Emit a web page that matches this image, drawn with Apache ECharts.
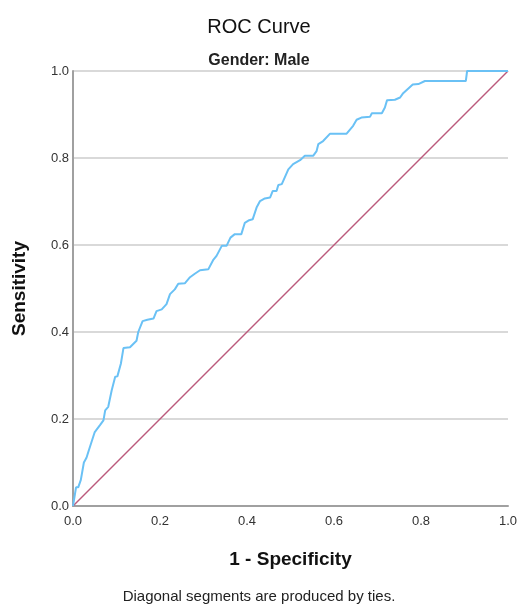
<!DOCTYPE html>
<html>
<head>
<meta charset="utf-8">
<script src="https://cdn.jsdelivr.net/npm/echarts@6/dist/echarts.min.js"></script>
<style>
  html, body { margin: 0; padding: 0; background: #fff; }
  #chart { width: 518px; height: 604px; }
</style>
</head>
<body>
<div id="chart"></div>
<script>
// 1 - specificity / sensitivity pairs
const fpr = [0, 0.007, 0.012, 0.018, 0.025, 0.031, 0.037, 0.05, 0.062, 0.07, 0.074, 0.081, 0.089, 0.097, 0.102,
  0.11, 0.116, 0.131, 0.146, 0.15, 0.16, 0.171, 0.185, 0.192, 0.204, 0.215, 0.223, 0.234, 0.242, 0.257,
  0.269, 0.28, 0.292, 0.311, 0.322, 0.33, 0.342, 0.353, 0.362, 0.372, 0.387, 0.395, 0.405, 0.413, 0.422,
  0.43, 0.441, 0.453, 0.459, 0.468, 0.472, 0.48, 0.495, 0.506, 0.522, 0.533, 0.552, 0.56, 0.564, 0.575,
  0.591, 0.629, 0.644, 0.652, 0.663, 0.683, 0.687, 0.71, 0.717, 0.722, 0.74, 0.752, 0.759, 0.781, 0.794,
  0.809, 0.903, 0.906, 1]
const tpr = [0, 0.043, 0.043, 0.06, 0.10, 0.111, 0.13, 0.17, 0.186, 0.197, 0.22, 0.228, 0.266, 0.297, 0.298,
  0.327, 0.363, 0.365, 0.38, 0.4, 0.425, 0.428, 0.431, 0.448, 0.452, 0.464, 0.487, 0.498, 0.511, 0.512,
  0.526, 0.534, 0.542, 0.544, 0.565, 0.575, 0.598, 0.598, 0.617, 0.625, 0.625, 0.651, 0.657, 0.659, 0.686,
  0.701, 0.707, 0.709, 0.724, 0.724, 0.738, 0.74, 0.774, 0.786, 0.795, 0.805, 0.805, 0.816, 0.832, 0.839,
  0.856, 0.856, 0.874, 0.888, 0.893, 0.895, 0.903, 0.903, 0.916, 0.933, 0.934, 0.939, 0.949, 0.969, 0.970,
  0.977, 0.977, 1, 1]
const refX = [0, 1]
const refY = [0, 1]

const chart = echarts.init(document.getElementById('chart'))
const font = '"Liberation Sans", Arial, sans-serif'

chart.setOption({
  animation: false,
  textStyle: { fontFamily: font },
  title: [
    {
      text: 'ROC Curve',
      left: 254,
      top: 12,
      textAlign: 'center',
      textStyle: { fontSize: 20, fontWeight: 'normal', color: '#111', fontFamily: font },
    },
    {
      text: 'Gender: Male',
      left: 254,
      top: 48,
      textAlign: 'center',
      textStyle: { fontSize: 16, fontWeight: 'bold', color: '#222', fontFamily: font },
    },
    {
      text: 'Diagonal segments are produced by ties.',
      left: 254,
      top: 584,
      textAlign: 'center',
      textStyle: { fontSize: 15, fontWeight: 'normal', color: '#222', fontFamily: font },
    },
  ],
  grid: {
    left: 73,
    right: 10,
    top: 71,
    bottom: 98,
    outerBoundsMode: 'none',
    containLabel: false,
  },
  xAxis: {
    type: 'value',
    min: 0,
    max: 1,
    interval: 0.2,
    name: '1 - Specificity',
    nameLocation: 'middle',
    nameGap: 44,
    nameTextStyle: { fontSize: 19, fontWeight: 'bold', color: '#111' },
    axisLine: { show: true, lineStyle: { color: '#a0a0a0', width: 2 } },
    axisTick: { show: false },
    axisLabel: {
      color: '#333',
      fontSize: 13,
      margin: 9,
      formatter: v => v.toFixed(1),
    },
    splitLine: { show: false },
  },
  yAxis: {
    type: 'value',
    min: 0,
    max: 1,
    interval: 0.2,
    name: 'Sensitivity',
    nameLocation: 'middle',
    nameGap: 44,
    nameTextStyle: { fontSize: 19, fontWeight: 'bold', color: '#111' },
    axisLine: { show: true, lineStyle: { color: '#a0a0a0', width: 2 } },
    axisTick: { show: false },
    axisLabel: {
      color: '#333',
      fontSize: 13,
      margin: 4,
      formatter: v => v.toFixed(1),
    },
    splitLine: { show: true, lineStyle: { color: '#cdcdcd', width: 1.5 } },
  },
  series: [
    {
      type: 'line',
      data: refX.map((x, i) => [x, refY[i]]),
      symbol: 'none',
      lineStyle: { color: '#bb5a7c', width: 1.5 },
      z: 2,
    },
    {
      type: 'line',
      data: fpr.map((x, i) => [x, tpr[i]]),
      symbol: 'none',
      lineStyle: { color: '#6ac1f5', width: 2 },
      z: 3,
    },
  ],
})
</script>
</body>
</html>
